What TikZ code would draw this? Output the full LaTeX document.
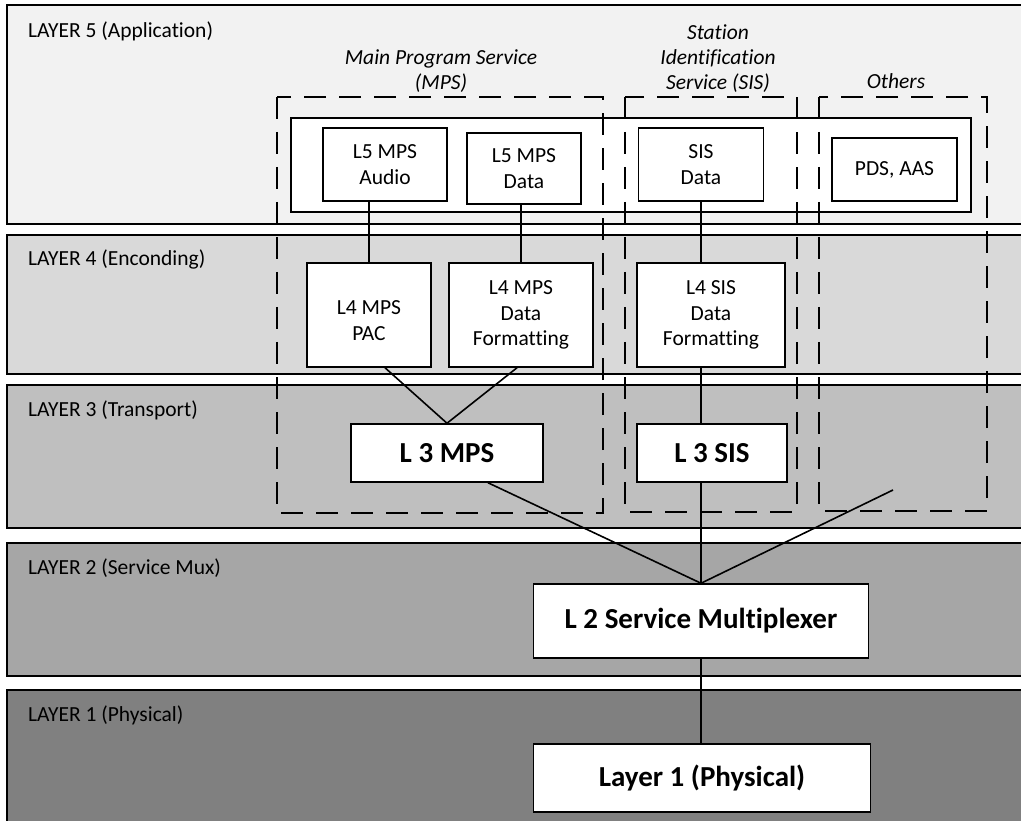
\documentclass[tikz,border=0pt]{standalone}
\usepackage{fontspec}
\setmainfont{Carlito}[Ligatures=NoCommon]

\begin{document}
\begin{tikzpicture}[x=1pt,y=-1pt,
    band/.style={draw,line width=1.5pt},
    box/.style={draw,line width=1.5pt,fill=white,align=center,inner sep=0pt,
        font=\fontsize{21.5}{25.5}\selectfont},
    bigbox/.style={box,font=\fontsize{29}{34}\selectfont\bfseries},
    servicegroup/.style={draw,line width=1.5pt,dash pattern=on 22pt off 13pt},
    service/.style={align=center,inner sep=0pt,anchor=south,
        font=\fontsize{21.5}{25}\selectfont\itshape},
    layername/.style={anchor=base west,inner sep=0pt,font=\fontsize{21.5}{25}\selectfont},
    link/.style={draw,line width=1.6pt}]
    \clip (0,0) rectangle (1021,821);
    \fill[white] (0,0) rectangle (1021,821);
    \filldraw[band,fill=gray!10] (7,5) rectangle (1030,224);
    \filldraw[band,fill=gray!30] (7,235) rectangle (1030,374);
    \filldraw[band,fill=gray!50] (7,385) rectangle (1030,528);
    \filldraw[band,fill=gray!70] (7,543) rectangle (1030,676);
    \filldraw[band,fill=gray] (7,690) rectangle (1030,830);
    \node[layername] (name5) at (28,38) {LAYER 5 (Application)};
    \node[layername] (name4) at (28,266) {LAYER 4 (Enconding)};
    \node[layername] (name3) at (28,416) {LAYER 3 (Transport)};
    \node[layername] (name2) at (28,574) {LAYER 2 (Service Mux)};
    \node[layername] (name1) at (28,721) {LAYER 1 (Physical)};
    \node[box,minimum width=680pt,minimum height=94pt] (l5frame) at (631,165) {};
    \draw[servicegroup] (277,97) rectangle (603,513);
    \draw[servicegroup] (625,97) rectangle (797,512);
    \draw[servicegroup] (819,97) rectangle (987,511);
    \node[service] (mpsname) at (441,93) {Main Program Service\\(MPS)};
    \node[service] (sisname) at (718,93) {Station\\Identification\\Service (SIS)};
    \node[service] (othername) at (896,89) {Others};
    \node[box,minimum width=124pt,minimum height=73pt] (l5audio) at (385,164.5) {L5 MPS\\Audio};
    \node[box,minimum width=114pt,minimum height=71pt] (l5data) at (524,168.5) {L5 MPS\\Data};
    \node[box,minimum width=125pt,minimum height=73pt] (sisdata) at (701,164.5) {SIS\\Data};
    \node[box,minimum width=125pt,minimum height=63pt] (pdsaas) at (894.5,169.5) {PDS, AAS};
    \node[box,minimum width=124pt,minimum height=104pt] (l4pac) at (369,315) {{}\\L4 MPS\\PAC};
    \node[box,minimum width=144pt,minimum height=104pt] (l4data) at (521,315) {L4 MPS\\Data\\Formatting};
    \node[box,minimum width=148pt,minimum height=104pt] (l4sis) at (711,315) {L4 SIS\\Data\\Formatting};
    \node[bigbox,minimum width=192pt,minimum height=58pt] (l3mps) at (447,453) {L 3 MPS};
    \node[bigbox,minimum width=150pt,minimum height=58pt] (l3sis) at (712,453) {L 3 SIS};
    \node[bigbox,minimum width=335pt,minimum height=74pt] (l2mux) at (701,621) {L 2 Service Multiplexer};
    \node[bigbox,minimum width=337pt,minimum height=68pt] (l1phys) at (702,778) {Layer 1 (Physical)};
    \coordinate (otherend) at (893,490);
    \draw[link] (l4pac.north |- l5audio.south) -- (l4pac.north);
    \draw[link] (l4data.north |- l5data.south) -- (l4data.north);
    \draw[link] (sisdata.south) -- (sisdata.south |- l4sis.north);
    \draw[link] ([xshift=16pt]l4pac.south) -- (l3mps.north);
    \draw[link] ([xshift=-4pt]l4data.south) -- (l3mps.north);
    \draw[link] ([xshift=-10pt]l4sis.south) -- ([xshift=-10pt]l4sis.south |- l3sis.north);
    \draw[link] ([xshift=41pt]l3mps.south) -- (l2mux.north);
    \draw[link] (l2mux.north |- l3sis.south) -- (l2mux.north);
    \draw[link] (otherend) -- (l2mux.north);
    \draw[link] (l2mux.south) -- (l2mux.south |- l1phys.north);
\end{tikzpicture}
\end{document}
